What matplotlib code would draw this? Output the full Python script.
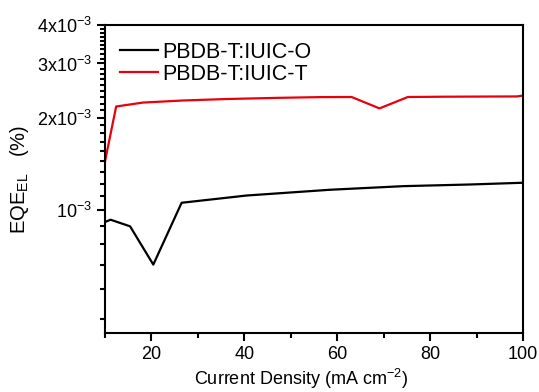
import matplotlib
matplotlib.use("Agg")
import matplotlib.pyplot as plt
from matplotlib.ticker import FixedLocator, FixedFormatter, NullFormatter
import numpy as np

plt.rcParams['font.family'] = ['Liberation Sans', 'DejaVu Sans']
plt.rcParams['mathtext.fontset'] = 'custom'
plt.rcParams['mathtext.rm'] = 'Liberation Sans'
plt.rcParams['mathtext.it'] = 'Liberation Sans:italic'

# Data
x_o = [10, 11.2, 15.4, 20.4, 26.5, 40.5, 58.4, 74.2, 88.6, 100]
y_o = [9.17e-4, 9.33e-4, 8.88e-4, 6.67e-4, 1.059e-3, 1.118e-3, 1.167e-3, 1.199e-3, 1.214e-3, 1.23e-3]

x_t = [10, 12.4, 18.2, 26.8, 36.2, 47.0, 56.3, 63.1, 69.1, 75.2, 82.8, 98.7, 100]
y_t = [1.443e-3, 2.175e-3, 2.24e-3, 2.275e-3, 2.30e-3, 2.32e-3, 2.333e-3, 2.335e-3,
       2.144e-3, 2.335e-3, 2.34e-3, 2.345e-3, 2.36e-3]

label_o = "PBDB-T:IUIC-O"
label_t = "PBDB-T:IUIC-T"

y_major = [1e-3, 2e-3, 3e-3, 4e-3]
y_major_labels = [r'$\mathregular{10^{-3}}$', r'$\mathregular{2x10^{-3}}$',
                  r'$\mathregular{3x10^{-3}}$', r'$\mathregular{4x10^{-3}}$']
x_major = [20, 40, 60, 80, 100]
x_minor = [10, 30, 50, 70, 90]

fig = plt.figure(figsize=(5.39, 3.92), dpi=100)
ax = fig.add_axes([105/539, 1-333/392, (523-105)/539, (333-25)/392])

ax.plot(x_o, y_o, color='black', lw=1.6, label=label_o)
ax.plot(x_t, y_t, color='#e8000b', lw=1.6, label=label_t)

ax.set_yscale('log')
ax.set_xlim(10, 100)
ax.set_ylim(4e-4, 4e-3)

# minor ticks: linear steps of 1/9 of 1e-3
minors = [1e-3 * k / 9 for k in range(4, 37)]
minors = [m for m in minors if all(abs(m - M) > 1e-7 for M in y_major) and m >= 4e-4]
ax.yaxis.set_major_locator(FixedLocator(y_major))
ax.yaxis.set_major_formatter(FixedFormatter(y_major_labels))
ax.yaxis.set_minor_locator(FixedLocator(minors))
ax.yaxis.set_minor_formatter(NullFormatter())

ax.xaxis.set_major_locator(FixedLocator(x_major))
ax.xaxis.set_minor_locator(FixedLocator(x_minor))

ax.tick_params(which='both', direction='out', top=False, right=False, labelsize=13, width=1.5)
ax.tick_params(which='major', length=6)
ax.tick_params(which='minor', length=3.5)
for s in ax.spines.values():
    s.set_linewidth(1.5)

ax.set_xlabel(r'Current Density (mA cm$^{\mathregular{-2}}$)', fontsize=13)
ax.xaxis.set_label_coords(0.47, -0.11)
ax.set_ylabel(r'EQE$_{\mathregular{EL}}$   (%)', fontsize=14.5, labelpad=4)

ax.legend(loc='upper left', bbox_to_anchor=(0.0, 0.995), frameon=False, fontsize=15.5,
          handlelength=1.75, handletextpad=0.2, labelspacing=0.05, borderaxespad=0.3)

fig.savefig('out.png', dpi=100)
